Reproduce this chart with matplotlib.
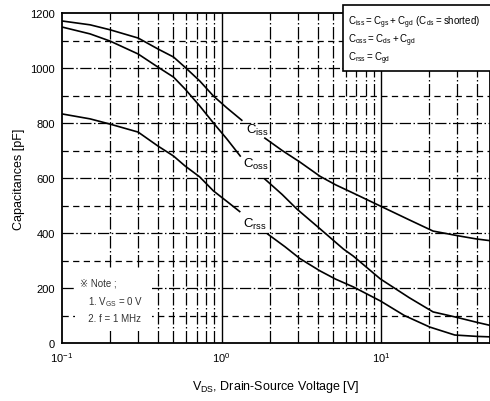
import matplotlib.pyplot as plt
from matplotlib.patches import Rectangle

plt.rcParams['font.family'] = ['Liberation Sans', 'DejaVu Sans']

# Ciss, Coss, Crss curves (each broken into two pieces around its label)
ciss_v1 = [0.1, 0.15, 0.2, 0.3, 0.4, 0.5, 0.59, 0.73, 0.89, 1.08, 1.34]
ciss_c1 = [1171, 1157, 1139, 1109, 1069, 1040, 1003, 953, 898, 855, 810]
ciss_v2 = [1.87, 2.4, 3.1, 4.15, 5.2, 6.7, 9.9, 15, 21.2, 31, 40, 50]
ciss_c2 = [745, 700, 658, 606, 575, 545, 498, 448, 407, 389, 378, 371]

coss_v1 = [0.1, 0.15, 0.2, 0.3, 0.4, 0.5, 0.59, 0.73, 0.89, 1.08, 1.31]
coss_c1 = [1149, 1124, 1098, 1051, 1003, 967, 924, 862, 800, 742, 680]
coss_v2 = [1.87, 2.4, 2.97, 4.15, 5.8, 6.7, 9.9, 15, 21.2, 29, 40, 50]
coss_c2 = [596, 540, 487, 415, 342, 316, 233, 165, 113, 95, 75, 62]

crss_v1 = [0.1, 0.15, 0.2, 0.3, 0.4, 0.5, 0.59, 0.73, 0.89, 1.08, 1.3]
crss_c1 = [833, 815, 796, 767, 716, 680, 644, 604, 553, 515, 478]
crss_v2 = [1.95, 2.5, 3.1, 4.15, 5.2, 6.7, 9.9, 14, 20.2, 29, 40, 50]
crss_c2 = [396, 350, 307, 262, 232, 204, 153, 100, 58, 29, 24, 22]

y_ticks = [0, 200, 400, 600, 800, 1000, 1200]
x_ticks = [0.1, 1, 10]
x_tick_labels = [r'$\mathregular{10^{-1}}$', r'$\mathregular{10^{0}}$', r'$\mathregular{10^{1}}$']

fig = plt.figure(figsize=(4.9, 4.02), dpi=100)
ax = fig.add_axes([62 / 490, 1 - 344 / 402, 428 / 490, 330 / 402])
ax.set_xscale('log')
ax.set_xlim(0.1, 48.2)
ax.set_ylim(0, 1200)

# grid lines by hand so the styles match the datasheet
for v in [200, 400, 600, 800, 1000]:
    ax.axhline(v, color='black', lw=0.9, ls=(0, (9, 2, 1.2, 2)), zorder=1)
for v in [100, 300, 500, 700, 900, 1100]:
    ax.axhline(v, color='black', lw=0.9, ls=(0, (5, 3.5)), zorder=1)
for dec in [0.1, 1, 10]:
    for m in range(2, 10):
        if dec * m < 48.2:
            ax.axvline(dec * m, color='black', lw=0.9, ls=(0, (10, 2, 1.2, 2)), zorder=1)
for v in [1, 10]:
    ax.axvline(v, color='black', lw=1.0, zorder=1)

for vx, vy in [(ciss_v1, ciss_c1), (ciss_v2, ciss_c2), (coss_v1, coss_c1),
               (coss_v2, coss_c2), (crss_v1, crss_c1), (crss_v2, crss_c2)]:
    ax.plot(vx, vy, color='black', lw=1.2, zorder=3)

ax.text(1.42, 805, r'$\mathregular{C_{iss}}$', fontsize=9.5, va='top', zorder=4)
ax.text(1.36, 680, r'$\mathregular{C_{oss}}$', fontsize=9.5, va='top', zorder=4)
ax.text(1.36, 462, r'$\mathregular{C_{rss}}$', fontsize=9.5, va='top', zorder=4)

# formula box top right
ax.add_patch(Rectangle((0.6565, 0.824), 0.36, 0.2, transform=ax.transAxes,
                       fc='white', ec='black', lw=1.2, zorder=5, clip_on=False))
legend_lines = [r'$\mathregular{C_{iss} = C_{gs} + C_{gd}\ (C_{ds} = shorted)}$',
                r'$\mathregular{C_{oss} = C_{ds} + C_{gd}}$',
                r'$\mathregular{C_{rss} = C_{gd}}$']
for i, s in enumerate(legend_lines):
    ax.text(0.668, 0.972 - i * 0.054, s, transform=ax.transAxes, fontsize=7,
            va='center', ha='left', zorder=6)

# note box, white patch hides the grid behind it
ax.add_patch(Rectangle((0.03, 0.035), 0.18, 0.185, transform=ax.transAxes,
                       fc='white', ec='none', zorder=4))
ax.text(0.042, 0.197, '※ Note ;\n   1. V$\\mathregular{_{GS}}$ = 0 V\n   2. f = 1 MHz',
        transform=ax.transAxes, fontsize=7, va='top', ha='left', linespacing=1.6,
        color='#333333', zorder=5)

ax.set_xticks(x_ticks)
ax.set_xticklabels(x_tick_labels)
ax.set_xticks([], minor=True)
ax.set_yticks(y_ticks)
ax.tick_params(axis='both', length=0, labelsize=8, pad=5)
for s in ['left', 'bottom', 'top', 'right']:
    ax.spines[s].set_linewidth(1.3)

ax.set_ylabel('Capacitances [pF]', fontsize=9)
ax.set_xlabel(r'V$\mathregular{_{DS}}$, Drain-Source Voltage [V]', fontsize=9, labelpad=10)

fig.savefig('out.png', dpi=100)
